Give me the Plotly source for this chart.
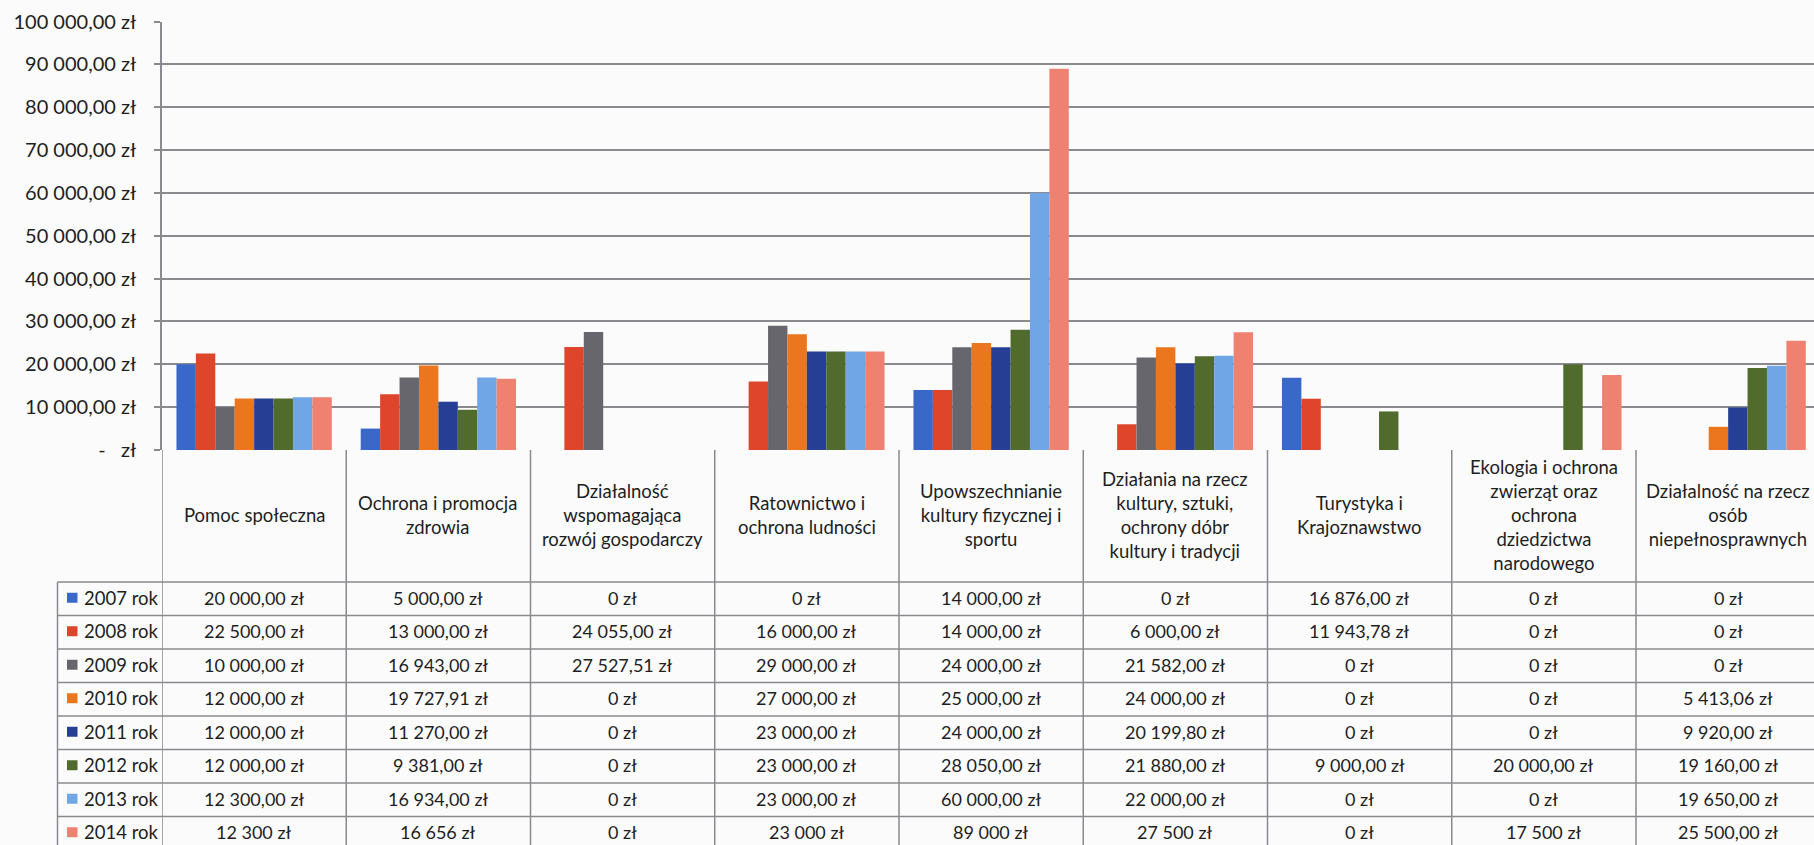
import plotly.graph_objects as go

categories = [
    "Pomoc społeczna",
    "Ochrona i promocja<br>zdrowia",
    "Działalność<br>wspomagająca<br>rozwój gospodarczy",
    "Ratownictwo i<br>ochrona ludności",
    "Upowszechnianie<br>kultury fizycznej i<br>sportu",
    "Działania na rzecz<br>kultury, sztuki,<br>ochrony dóbr<br>kultury i tradycji",
    "Turystyka i<br>Krajoznawstwo",
    "Ekologia i ochrona<br>zwierząt oraz<br>ochrona<br>dziedzictwa<br>narodowego",
    "Działalność na rzecz<br>osób<br>niepełnosprawnych",
]

series_names = ["2007 rok", "2008 rok", "2009 rok", "2010 rok",
                "2011 rok", "2012 rok", "2013 rok", "2014 rok"]

v2007 = [20000, 5000, 0, 0, 14000, 0, 16876, 0, 0]
v2008 = [22500, 13000, 24055, 16000, 14000, 6000, 11943.78, 0, 0]
v2009 = [10000, 16943, 27527.51, 29000, 24000, 21582, 0, 0, 0]
v2010 = [12000, 19727.91, 0, 27000, 25000, 24000, 0, 0, 5413.06]
v2011 = [12000, 11270, 0, 23000, 24000, 20199.80, 0, 0, 9920]
v2012 = [12000, 9381, 0, 23000, 28050, 21880, 9000, 20000, 19160]
v2013 = [12300, 16934, 0, 23000, 60000, 22000, 0, 0, 19650]
v2014 = [12300, 16656, 0, 23000, 89000, 27500, 0, 17500, 25500]
series_values = [v2007, v2008, v2009, v2010, v2011, v2012, v2013, v2014]

# cell texts as printed in the table
cells_2007 = ["20 000,00 zł", "5 000,00 zł", "0 zł", "0 zł", "14 000,00 zł", "0 zł", "16 876,00 zł", "0 zł", "0 zł"]
cells_2008 = ["22 500,00 zł", "13 000,00 zł", "24 055,00 zł", "16 000,00 zł", "14 000,00 zł", "6 000,00 zł", "11 943,78 zł", "0 zł", "0 zł"]
cells_2009 = ["10 000,00 zł", "16 943,00 zł", "27 527,51 zł", "29 000,00 zł", "24 000,00 zł", "21 582,00 zł", "0 zł", "0 zł", "0 zł"]
cells_2010 = ["12 000,00 zł", "19 727,91 zł", "0 zł", "27 000,00 zł", "25 000,00 zł", "24 000,00 zł", "0 zł", "0 zł", "5 413,06 zł"]
cells_2011 = ["12 000,00 zł", "11 270,00 zł", "0 zł", "23 000,00 zł", "24 000,00 zł", "20 199,80 zł", "0 zł", "0 zł", "9 920,00 zł"]
cells_2012 = ["12 000,00 zł", "9 381,00 zł", "0 zł", "23 000,00 zł", "28 050,00 zł", "21 880,00 zł", "9 000,00 zł", "20 000,00 zł", "19 160,00 zł"]
cells_2013 = ["12 300,00 zł", "16 934,00 zł", "0 zł", "23 000,00 zł", "60 000,00 zł", "22 000,00 zł", "0 zł", "0 zł", "19 650,00 zł"]
cells_2014 = ["12 300 zł", "16 656 zł", "0 zł", "23 000 zł", "89 000 zł", "27 500 zł", "0 zł", "17 500 zł", "25 500,00 zł"]
cell_texts = [cells_2007, cells_2008, cells_2009, cells_2010,
              cells_2011, cells_2012, cells_2013, cells_2014]

y_tickvals = [0, 10000, 20000, 30000, 40000, 50000, 60000, 70000, 80000, 90000, 100000]
y_ticktext = ["-\u00a0\u00a0\u00a0zł", "10 000,00 zł", "20 000,00 zł", "30 000,00 zł",
              "40 000,00 zł", "50 000,00 zł", "60 000,00 zł", "70 000,00 zł",
              "80 000,00 zł", "90 000,00 zł", "100 000,00 zł"]

colors = ["#3A68C8", "#DE452A", "#66666C", "#EC761E",
          "#263F94", "#506B2B", "#70A6E6", "#EF8170"]

W, H = 1814, 845
FONT = "Lato"
TXT = "#1e1e1e"
LINE = "#8a8a8e"

# layout geometry (pixels)
AXIS_LEFT = 162
ZERO_Y = 450
TOP_Y = 21.5
HEADER_BOTTOM = 582
ROW_H = 33.5
LEGEND_LEFT = 57.5
COL_W = 184.25


def py(p):
    return 1 - p / H


def px(p):
    return p / W


n_cols = len(categories)
x_idx = list(range(n_cols))
x_span = (W - AXIS_LEFT) / COL_W

fig = go.Figure()
for name, vals, col in zip(series_names, series_values, colors):
    fig.add_trace(go.Bar(x=x_idx, y=vals, name=name, marker=dict(color=col, line=dict(width=0))))

shapes = []
annotations = []

# vertical column lines in the table
for k in range(n_cols + 1):
    shapes.append(dict(type="line", xref="x", yref="paper", x0=k - 0.5, x1=k - 0.5,
                       y0=py(ZERO_Y), y1=0, line=dict(color=LINE, width=1.5)))
# legend column left border
shapes.append(dict(type="line", xref="paper", yref="paper", x0=px(LEGEND_LEFT), x1=px(LEGEND_LEFT),
                   y0=py(HEADER_BOTTOM), y1=0, line=dict(color=LINE, width=1.5)))
# horizontal row lines
for r in range(len(series_names) + 1):
    yy = HEADER_BOTTOM + r * ROW_H
    shapes.append(dict(type="line", xref="paper", yref="paper", x0=px(LEGEND_LEFT), x1=1,
                       y0=py(yy), y1=py(yy), line=dict(color=LINE, width=1.5)))

# header texts
for i, c in enumerate(categories):
    annotations.append(dict(x=i, y=py(515), xref="x", yref="paper",
                            text=c, showarrow=False, xanchor="center", yanchor="middle",
                            font=dict(family=FONT, size=18.5, color=TXT)))

# rows
for r, (name, col, texts) in enumerate(zip(series_names, colors, cell_texts)):
    yc = HEADER_BOTTOM + (r + 0.5) * ROW_H - 1
    shapes.append(dict(type="rect", xref="paper", yref="paper",
                       x0=px(67), x1=px(77.5), y0=py(yc + 5), y1=py(yc - 5),
                       fillcolor=col, line=dict(width=0)))
    annotations.append(dict(x=px(82), y=py(yc), xref="paper", yref="paper", text=name,
                            showarrow=False, xanchor="left", yanchor="middle",
                            font=dict(family=FONT, size=18.5, color=TXT)))
    for i, t in enumerate(texts):
        annotations.append(dict(x=i, y=py(yc), xref="x", yref="paper", text=t,
                                showarrow=False, xanchor="center", yanchor="middle",
                                font=dict(family=FONT, size=18, color=TXT)))

fig.update_layout(
    width=W, height=H,
    margin=dict(l=0, r=0, t=0, b=0),
    paper_bgcolor="#fbfbfc", plot_bgcolor="#fbfbfc",
    barmode="group", bargap=0.157, bargroupgap=0,
    showlegend=False,
    shapes=shapes, annotations=annotations,
    xaxis=dict(domain=[px(AXIS_LEFT), 1], range=[-0.5, -0.5 + x_span],
               showticklabels=False, showgrid=False, zeroline=False, showline=False,
               fixedrange=True),
    yaxis=dict(domain=[py(ZERO_Y), py(TOP_Y)], range=[0, 100000],
               tickvals=y_tickvals, ticktext=y_ticktext,
               ticks="outside", ticklen=6, tickcolor=LINE, tickwidth=1.5,
               showgrid=True, gridcolor=LINE, gridwidth=1.5,
               zeroline=False, showline=True, linecolor=LINE, linewidth=1.5,
               ticklabelstandoff=14,
               tickfont=dict(family=FONT, size=20, color=TXT), automargin=False),
)

fig.write_html(
    "out.html",
    config={"displayModeBar": False},
    post_script="document.body.style.margin='0px';document.body.style.overflow='hidden';"
                "document.body.style.background='#fbfbfc';",
)
